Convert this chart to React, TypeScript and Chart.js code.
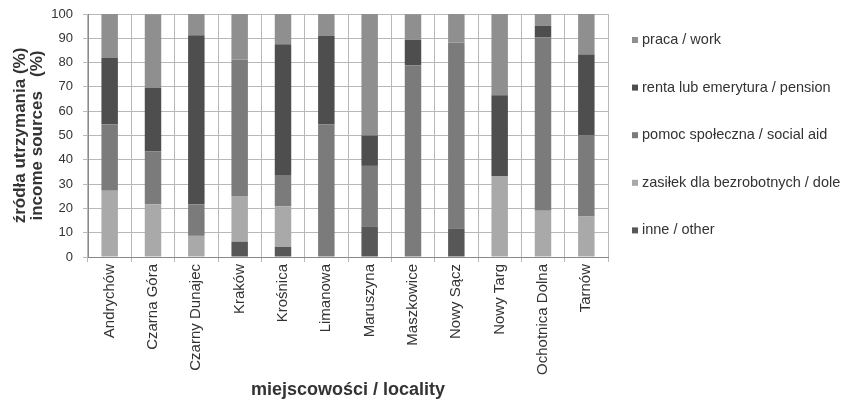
import React, { useEffect, useRef } from "react";
import { Chart, registerables } from "chart.js";

Chart.register(...registerables);

const localities = [
  "Andrychów", "Czarna Góra", "Czarny Dunajec", "Kraków", "Krośnica", "Limanowa",
  "Maruszyna", "Maszkowice", "Nowy Sącz", "Nowy Targ", "Ochotnica Dolna", "Tarnów",
];

const inne = [0, 0, 0, 6.3, 4.2, 0, 12.5, 0, 11.8, 0, 0, 0];
const zasilek = [27.3, 21.7, 8.7, 18.8, 16.7, 0, 0, 0, 0, 33.3, 19.0, 16.7];
const pomoc = [27.3, 21.7, 13.0, 56.2, 12.5, 54.5, 25.0, 78.9, 76.5, 0, 71.4, 33.3];
const renta = [27.3, 26.1, 69.6, 0, 54.2, 36.4, 12.5, 10.5, 0, 33.3, 4.8, 33.3];
const praca = [18.2, 30.4, 8.7, 18.7, 12.4, 9.1, 50.0, 10.5, 11.7, 33.4, 4.8, 16.7];

const seriesLabels = [
  "inne / other",
  "zasiłek dla bezrobotnych / dole",
  "pomoc społeczna / social aid",
  "renta lub emerytura / pension",
  "praca / work",
];
const seriesColors = ["#575757", "#a9a9a9", "#7b7b7b", "#4e4e4e", "#8f8f8f"];

const FONT = 'Arial, "Liberation Sans", sans-serif';

const legendPlugin = {
  id: "customLegend",
  afterDraw(chart: any) {
    const ctx = chart.ctx;
    const area = chart.chartArea;
    ctx.save();
    ctx.font = `14.5px ${FONT}`;
    ctx.textBaseline = "middle";
    ctx.textAlign = "left";
    const order = [4, 3, 2, 1, 0];
    order.forEach((si, i) => {
      const y = area.top + 26 + i * 47.6;
      const x = area.right + 24;
      ctx.fillStyle = seriesColors[si];
      ctx.fillRect(x, y - 3, 6, 6);
      ctx.fillStyle = "#333333";
      ctx.fillText(seriesLabels[si], x + 10, y);
    });
    ctx.restore();
  },
};

export default function App() {
  const ref = useRef<HTMLCanvasElement | null>(null);
  useEffect(() => {
    if (!ref.current) return;
    const dataSeries = [inne, zasilek, pomoc, renta, praca];
    const chart = new Chart(ref.current, {
      type: "bar",
      data: {
        labels: localities,
        datasets: dataSeries.map((d, i) => ({
          label: seriesLabels[i],
          data: d,
          backgroundColor: seriesColors[i],
          borderWidth: 0,
          barPercentage: 0.38,
          categoryPercentage: 1,
        })),
      },
      options: {
        animation: false,
        responsive: true,
        maintainAspectRatio: false,
        layout: { padding: { top: 14, right: 239, left: 0, bottom: 0 } },
        plugins: {
          legend: { display: false },
          tooltip: { enabled: false },
        },
        scales: {
          x: {
            stacked: true,
            offset: true,
            afterFit: (s: any) => {
              s.height = 148;
              s.paddingLeft = 0;
              s.paddingRight = 0;
            },
            grid: {
              offset: true,
              color: "#b8b8b8",
              tickLength: 5,
              drawTicks: true,
            },
            border: { color: "#8a8a8a" },
            ticks: {
              autoSkip: false,
              maxRotation: 90,
              minRotation: 90,
              padding: 2,
              color: "#333333",
              font: { family: FONT, size: 15 },
            },
            title: {
              display: true,
              text: "miejscowości / locality",
              color: "#333333",
              font: { family: FONT, size: 18, weight: "bold" },
              padding: { top: 0, bottom: 4 },
            },
          },
          y: {
            stacked: true,
            min: 0,
            max: 100,
            afterFit: (s: any) => {
              s.width = 88;
              s.paddingTop = 0;
              s.paddingBottom = 0;
            },
            grid: {
              color: "#b8b8b8",
              tickLength: 5,
              drawTicks: true,
            },
            border: { color: "#8a8a8a" },
            ticks: {
              stepSize: 10,
              padding: 10,
              color: "#333333",
              font: { family: FONT, size: 13 },
            },
            title: {
              display: true,
              text: ["źródła utrzymania (%)", "income sources   (%)"],
              color: "#333333",
              font: { family: FONT, size: 17, weight: "bold", lineHeight: 1.0 },
              padding: { top: 12, bottom: 0 },
            },
          },
        },
      },
      plugins: [legendPlugin],
    } as any);
    return () => chart.destroy();
  }, []);
  return (
    <div style={{ position: "fixed", left: 0, top: 0, width: 847, height: 405, background: "#ffffff" }}>
      <canvas ref={ref} />
    </div>
  );
}
